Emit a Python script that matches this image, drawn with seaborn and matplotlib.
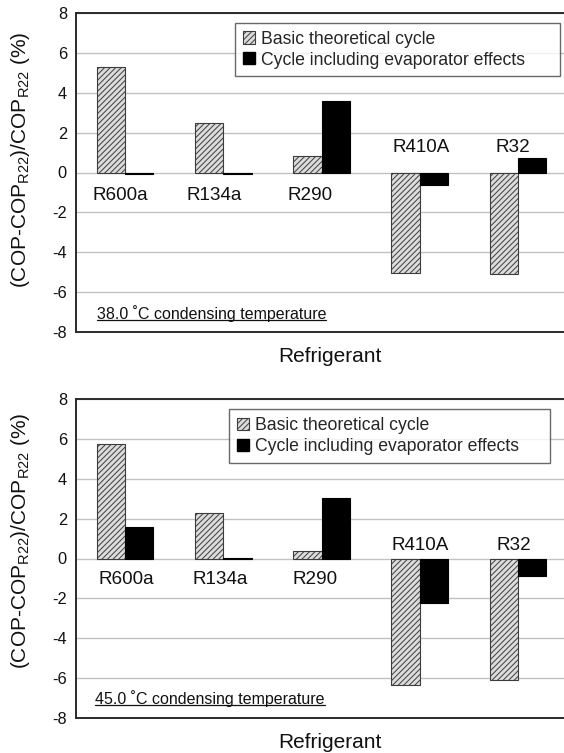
import numpy as np
import pandas as pd
import matplotlib
matplotlib.use("Agg")
import matplotlib.pyplot as plt
import seaborn as sns
from matplotlib.patches import Patch
from matplotlib.lines import Line2D

# ---- data ----
refrigerants = ["R600a", "R134a", "R290", "R410A", "R32"]
series_names = ["Basic theoretical cycle", "Cycle including evaporator effects"]
basic_38 = [5.27, 2.47, 0.82, -5.03, -5.07]
evap_38 = [-0.06, -0.06, 3.57, -0.62, 0.72]
basic_45 = [5.72, 2.30, 0.385, -6.33, -6.07]
evap_45 = [1.60, 0.03, 3.02, -2.23, -0.87]
panel_titles = ["38.0 \u02daC condensing temperature", "45.0 \u02daC condensing temperature"]
y_ticks = [-8, -6, -4, -2, 0, 2, 4, 6, 8]

sns.set_style("white")
plt.rcParams["font.family"] = ["Liberation Sans", "DejaVu Sans"]
plt.rcParams["mathtext.fontset"] = "custom"
plt.rcParams["mathtext.rm"] = "Liberation Sans"
plt.rcParams["mathtext.it"] = "Liberation Sans:italic"
plt.rcParams["mathtext.bf"] = "Liberation Sans:bold"
plt.rcParams["hatch.linewidth"] = 0.7

W, H = 564, 753
fig = plt.figure(figsize=(W / 100, H / 100), dpi=100)

hatch_face = "#dcdcdc"
hatch_edge = "#3c3c3c"
text_color = "#111111"

def px_axes(x0, y0, x1, y1):
    return fig.add_axes([x0 / W, 1 - y1 / H, (x1 - x0) / W, (y1 - y0) / H])

panels = [
    dict(basic=basic_38, evap=evap_38, box=(76, 12.7, 567, 332.3), title=panel_titles[0],
         lab_below=-1.15, lab_above=1.27, lab_dx=[-0.05, -0.093, -0.12, 0.02, -0.05],
         leg=(0.3238, 0.9687, 0.661), ylab_y=0.539, title_xy=(-0.289, -7.07)),
    dict(basic=basic_45, evap=evap_45, box=(76, 398.7, 567, 718.3), title=panel_titles[1],
         lab_below=-1.03, lab_above=0.67, lab_dx=[0.01, -0.03, -0.063, 0.0, -0.045],
         leg=(0.3122, 0.9668, 0.6538), ylab_y=0.555, title_xy=(-0.305, -7.0)),
]

axes = []
for p in panels:
    ax = px_axes(*p["box"])
    axes.append(ax)
    df = pd.DataFrame({
        "Refrigerant": refrigerants * 2,
        "Cycle": [series_names[0]] * len(refrigerants) + [series_names[1]] * len(refrigerants),
        "Value": list(p["basic"]) + list(p["evap"]),
    })
    sns.barplot(data=df, x="Refrigerant", y="Value", hue="Cycle", order=refrigerants,
                hue_order=series_names, palette=[hatch_face, "black"], width=0.577,
                saturation=1, legend=False, ax=ax, zorder=3)
    n = len(refrigerants)
    for i, bar in enumerate(ax.patches[:2 * n]):
        if i < n:
            bar.set_hatch("//////")
            bar.set_edgecolor(hatch_edge)
            bar.set_linewidth(0.8)
        else:
            bar.set_edgecolor("black")
            bar.set_linewidth(0.8)

    ax.set_xlim(-0.5, 4.5)
    ax.set_ylim(-8, 8)
    ax.set_yticks(y_ticks)
    ax.set_yticklabels([str(t) for t in y_ticks])
    ax.set_xticks([])
    ax.yaxis.grid(True, color="#c2c2c2", lw=1.0, zorder=0)
    ax.set_axisbelow(True)
    for s in ["left", "top", "bottom"]:
        ax.spines[s].set_color("#2a2a2a")
        ax.spines[s].set_linewidth(1.4)
    ax.spines["right"].set_visible(False)
    ax.tick_params(axis="y", length=0, pad=6.5, labelsize=11.8, colors=text_color)

    ax.set_ylabel("(COP-COP$_{\\mathrm{R22}}$)/COP$_{\\mathrm{R22}}$ (%)", fontsize=15, color=text_color)
    ax.yaxis.set_label_coords(-0.089, p["ylab_y"])
    ax.set_xlabel("Refrigerant", fontsize=15, color=text_color)
    ax.xaxis.set_label_coords(0.517, -0.045)

    for i, name in enumerate(refrigerants):
        ypos = p["lab_below"] if p["basic"][i] > 0 else p["lab_above"]
        ax.text(i + p["lab_dx"][i], ypos, name, ha="center", va="center", fontsize=13.6,
                color=text_color, zorder=5)

    handles = [Patch(facecolor=hatch_face, edgecolor=hatch_edge, hatch="//////", lw=0.8),
               Patch(facecolor="black", edgecolor="black")]
    lx, ly, lw_ = p["leg"]
    leg = ax.legend(handles=handles, labels=series_names, loc="upper left",
                    bbox_to_anchor=(lx, ly - 0.3, lw_, 0.3), mode="expand",
                    borderaxespad=0, fontsize=12.7,
                    frameon=True, fancybox=False, edgecolor="#444444",
                    handlelength=0.68, handleheight=0.68, handletextpad=0.34,
                    labelspacing=0.22, borderpad=0.45)
    leg.get_frame().set_linewidth(1.0)
    leg.set_zorder(6)

    tx, ty = p["title_xy"]
    p["txt"] = ax.text(tx, ty, p["title"], ha="left", va="center", fontsize=11.5,
                       color=text_color, zorder=5)

fig.canvas.draw()
renderer = fig.canvas.get_renderer()
for ax, p in zip(axes, panels):
    bb = p["txt"].get_window_extent(renderer=renderer)
    inv = ax.transAxes.inverted()
    (x0, y0) = inv.transform((bb.x0, bb.y0 + 2.0))
    (x1, _) = inv.transform((bb.x1, bb.y0 + 2.0))
    ax.add_line(Line2D([x0, x1], [y0, y0], transform=ax.transAxes, color=text_color, lw=0.9, zorder=5))

fig.savefig("out.png", dpi=100)
